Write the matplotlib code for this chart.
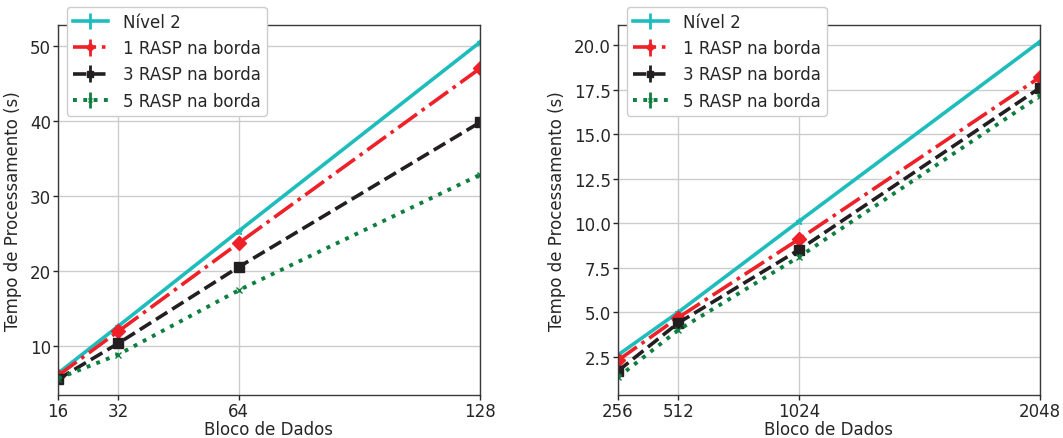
import matplotlib as mpl
import matplotlib.pyplot as plt

# left panel
x_left = [16, 32, 64, 128]
nivel2_left = [6.3, 12.6, 25.3, 50.5]
rasp1_left = [6.0, 11.9, 23.7, 47.0]
rasp3_left = [5.5, 10.3, 20.5, 39.8]
rasp5_left = [5.6, 8.8, 17.4, 32.8]

# right panel
x_right = [256, 512, 1024, 2048]
nivel2_right = [2.6, 5.0, 10.1, 20.2]
rasp1_right = [2.3, 4.7, 9.1, 18.2]
rasp3_right = [1.7, 4.4, 8.5, 17.6]
rasp5_right = [1.35, 4.0, 8.1, 17.15]

labels = ["Nível 2", "1 RASP na borda", "3 RASP na borda", "5 RASP na borda"]
colors = ["#1fbcbc", "#ee2128", "#231f20", "#0c7f3e"]
styles = ["-", "-.", "--", ":"]
markers = ["*", "D", "s", "x"]

mpl.rcParams.update(
    {
        "font.family": "DejaVu Sans",
        "font.size": 12,
        "text.color": "#262626",
        "axes.labelcolor": "#262626",
        "xtick.color": "#262626",
        "ytick.color": "#262626",
        "axes.edgecolor": "#3a3a3a",
        "axes.linewidth": 1.0,
    }
)

fig = plt.figure(figsize=(10.63, 4.39), dpi=100)
W, H = 1063, 439
ax_l = fig.add_axes([58 / W, 1 - 396 / H, 422 / W, 370 / H])
ax_r = fig.add_axes([618 / W, 1 - 396 / H, 422 / W, 370 / H])


def draw(ax, xs, series, ylim, yticks):
    for ys, lab, col, ls, mk in zip(series, labels, colors, styles, markers):
        ax.errorbar(
            xs, ys, yerr=[0.08 * (ylim[1] / 20)] * len(xs), label=lab, color=col,
            linestyle=ls, linewidth=2.6 if ls != ":" else 2.8, marker=mk,
            markersize=7 if mk in ("D", "s") else 5, elinewidth=2, capsize=0,
        )
    ax.set_xlim(xs[0], xs[-1])
    ax.set_ylim(*ylim)
    ax.set_xticks(xs)
    ax.set_xticklabels([str(v) for v in xs])
    ax.set_yticks(yticks)
    ax.grid(True, color="#cccccc", linewidth=1.0)
    ax.set_axisbelow(True)
    ax.tick_params(direction="out", length=3.5, width=1, pad=1.5)
    ax.set_xlabel("Bloco de Dados", labelpad=0)
    ax.set_ylabel("Tempo de Processamento (s)", labelpad=6)
    ax.legend(
        loc="upper left", bbox_to_anchor=(9 / 422, 1 + 18 / 370), frameon=True,
        fancybox=True, edgecolor="#cccccc", framealpha=1, handlelength=2.1,
        borderpad=0.35, labelspacing=0.5, handletextpad=0.9, borderaxespad=0,
        markerscale=0.6,
    )


draw(ax_l, x_left, [nivel2_left, rasp1_left, rasp3_left, rasp5_left],
     (3.4, 52.8), [10, 20, 30, 40, 50])
ax_r_ticks = [2.5, 5.0, 7.5, 10.0, 12.5, 15.0, 17.5, 20.0]
draw(ax_r, x_right, [nivel2_right, rasp1_right, rasp3_right, rasp5_right],
     (0.35, 21.13), ax_r_ticks)
ax_r.set_yticklabels([f"{v:.1f}" for v in ax_r_ticks])

fig.savefig("out.png", dpi=100)
